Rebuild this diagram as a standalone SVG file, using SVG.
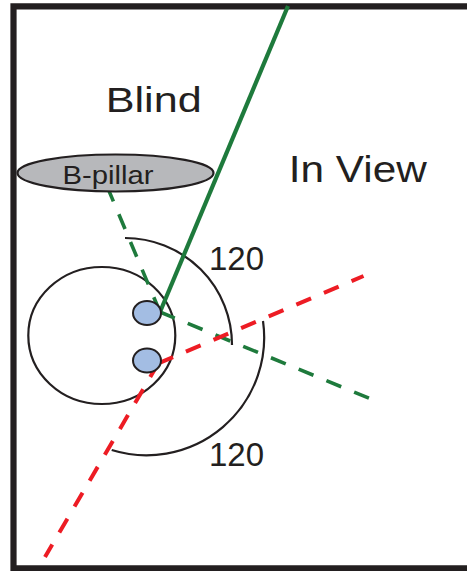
<svg xmlns="http://www.w3.org/2000/svg" width="467" height="571" viewBox="0 0 467 571">
<style>
.txt{font-family:"Liberation Sans",Arial,sans-serif;fill:#231f20}
.arc{fill:none;stroke:#231f20;stroke-width:2.2}
.gdash{fill:none;stroke:#1e7a3c;stroke-width:3.6;stroke-dasharray:16 14}
.rdash{fill:none;stroke:#ed1c24;stroke-width:4;stroke-dasharray:16 14}
.eye{fill:#a3bde3;stroke:#231f20;stroke-width:2}
</style>
<rect width="467" height="571" fill="#ffffff"/>
<g id="frame">
<path d="M470,6.3 H13.5 V568.3 H470" fill="none" stroke="#231f20" stroke-width="6.2"/>
</g>
<g id="head">
<ellipse cx="101.8" cy="335.5" rx="73.5" ry="68.5" class="arc"/>
</g>
<g id="angles">
<path class="arc" d="M125,238 A107,107 0 0 1 232,345"/>
<path class="arc" d="M263,321 A117.7,117.7 0 0 1 111.7,450"/>
</g>
<g id="connectors">
<line x1="288" y1="6" x2="160" y2="312" stroke="#1e7a3c" stroke-width="4.2"/>
<path class="gdash" d="M160,312 L101,172"/>
<path class="gdash" d="M160,312 L371,399"/>
<path class="rdash" d="M158.3,363.3 L363.5,276"/>
<path class="rdash" d="M158.3,363.3 L45,557"/>
</g>
<g id="bpillar">
<ellipse cx="115.5" cy="173" rx="98" ry="18.5" fill="#b7b8bb" stroke="#231f20" stroke-width="2.2"/>
<text class="txt" x="62.4" y="183.5" font-size="26" textLength="91" lengthAdjust="spacingAndGlyphs">B-pillar</text>
</g>
<g id="eye-upper">
<ellipse cx="147" cy="313" rx="14" ry="12" class="eye"/>
</g>
<g id="eye-lower">
<ellipse cx="147" cy="360.5" rx="14" ry="12" class="eye"/>
</g>
<g id="label-blind">
<text class="txt" x="105.7" y="111.5" font-size="35.5" textLength="96" lengthAdjust="spacingAndGlyphs">Blind</text>
</g>
<g id="label-inview">
<text class="txt" x="288.8" y="182" font-size="37.5" textLength="138" lengthAdjust="spacingAndGlyphs">In View</text>
</g>
<g id="label-120-top">
<text class="txt" x="209" y="270" font-size="33">120</text>
</g>
<g id="label-120-bottom">
<text class="txt" x="209" y="465.5" font-size="33">120</text>
</g>
</svg>
